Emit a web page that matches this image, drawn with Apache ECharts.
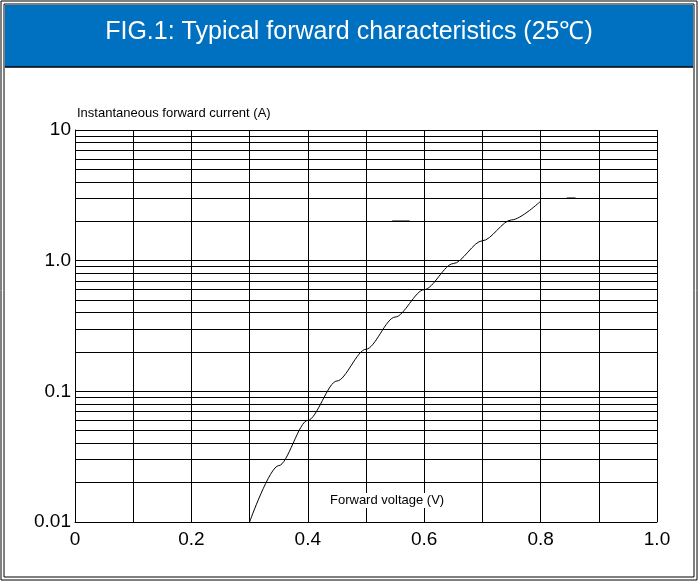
<!DOCTYPE html>
<html><head><meta charset="utf-8">
<script src="https://cdn.jsdelivr.net/npm/echarts@6/dist/echarts.min.js"></script>
<style>html,body{margin:0;padding:0;background:#fff}#c{width:698px;height:581px}</style>
</head><body><div id="c"></div>
<script>
const voltage = [0.30, 0.35, 0.40, 0.45, 0.50, 0.55, 0.60, 0.65, 0.70, 0.75, 0.80];
const current = [0.010, 0.027, 0.060, 0.12, 0.21, 0.37, 0.60, 0.95, 1.42, 2.05, 2.85];
const minorY = [0.02,0.03,0.04,0.05,0.06,0.07,0.08,0.09,0.2,0.3,0.4,0.5,0.6,0.7,0.8,0.9,2,3,4,5,6,7,8,9];
const dashA = [[0.545,2.0],[0.575,2.0]];
const dashB = [[0.845,3.0],[0.86,3.0]];
const xLabels = {0:'0',2:'0.2',4:'0.4',6:'0.6',8:'0.8',10:'1.0'};
const yLabels = {'0.01':'0.01','0.1':'0.1','1':'1.0','10':'10'};

const chart = echarts.init(document.getElementById('c'));
const F = 'Liberation Sans, Arial, sans-serif';
chart.setOption({
  animation:false,
  graphic:[
    {type:'rect',shape:{x:1,y:1,width:696,height:579},style:{fill:'none',stroke:'#000',lineWidth:1}},
    {type:'rect',shape:{x:4,y:4,width:690,height:573},style:{fill:'none',stroke:'#000',lineWidth:1}},
    {type:'rect',shape:{x:5,y:5,width:688,height:62},style:{fill:'#0070C0'}},
    {type:'line',shape:{x1:5,y1:67,x2:693,y2:67},style:{stroke:'#000',lineWidth:1.5}},
    {type:'text',left:'center',top:20,style:{text:'FIG.1: Typical forward characteristics (25℃)',fill:'#fff',font:'25px '+F}},
    {type:'text',left:77,top:107,style:{text:'Instantaneous forward current (A)',fill:'#000',font:'13px '+F}},
    {type:'text',left:327,top:493,z:100,style:{text:'Forward voltage (V)',fill:'#000',font:'13px '+F,backgroundColor:'#fff',padding:[1,3]}}
  ],
  grid:{left:75,right:41,top:130,bottom:59},
  xAxis:{type:'value',min:0,max:1,interval:0.1,
    axisLine:{lineStyle:{color:'#000'}},axisTick:{show:false},
    splitLine:{show:true,lineStyle:{color:'#000',width:1}},
    axisLabel:{color:'#000',fontSize:19,fontFamily:F,margin:8,
      formatter:v=>{const k=Math.round(v*10);return xLabels[k]!==undefined?xLabels[k]:'';}}},
  yAxis:{type:'log',min:0.01,max:10,logBase:10,
    axisLine:{lineStyle:{color:'#000'}},axisTick:{show:false},
    splitLine:{show:true,lineStyle:{color:'#000',width:1}},
    axisLabel:{color:'#000',fontSize:19,fontFamily:F,margin:4,
      formatter:v=>{const k=String(+v.toPrecision(3));return yLabels[k]||'';}}},
  series:[
    {type:'line',data:[],silent:true,markLine:{symbol:'none',silent:true,label:{show:false},
      lineStyle:{color:'#000',width:1,type:'solid'},data:minorY.map(v=>({yAxis:v}))}},
    {type:'line',smooth:0.3,smoothMonotone:'x',symbol:'none',lineStyle:{color:'#000',width:1},
      data:voltage.map((v,i)=>[v,current[i]])},
    {type:'line',symbol:'none',lineStyle:{color:'#000',width:1.5},data:dashA},
    {type:'line',symbol:'none',lineStyle:{color:'#000',width:1.5},data:dashB}
  ]
});
</script></body></html>
